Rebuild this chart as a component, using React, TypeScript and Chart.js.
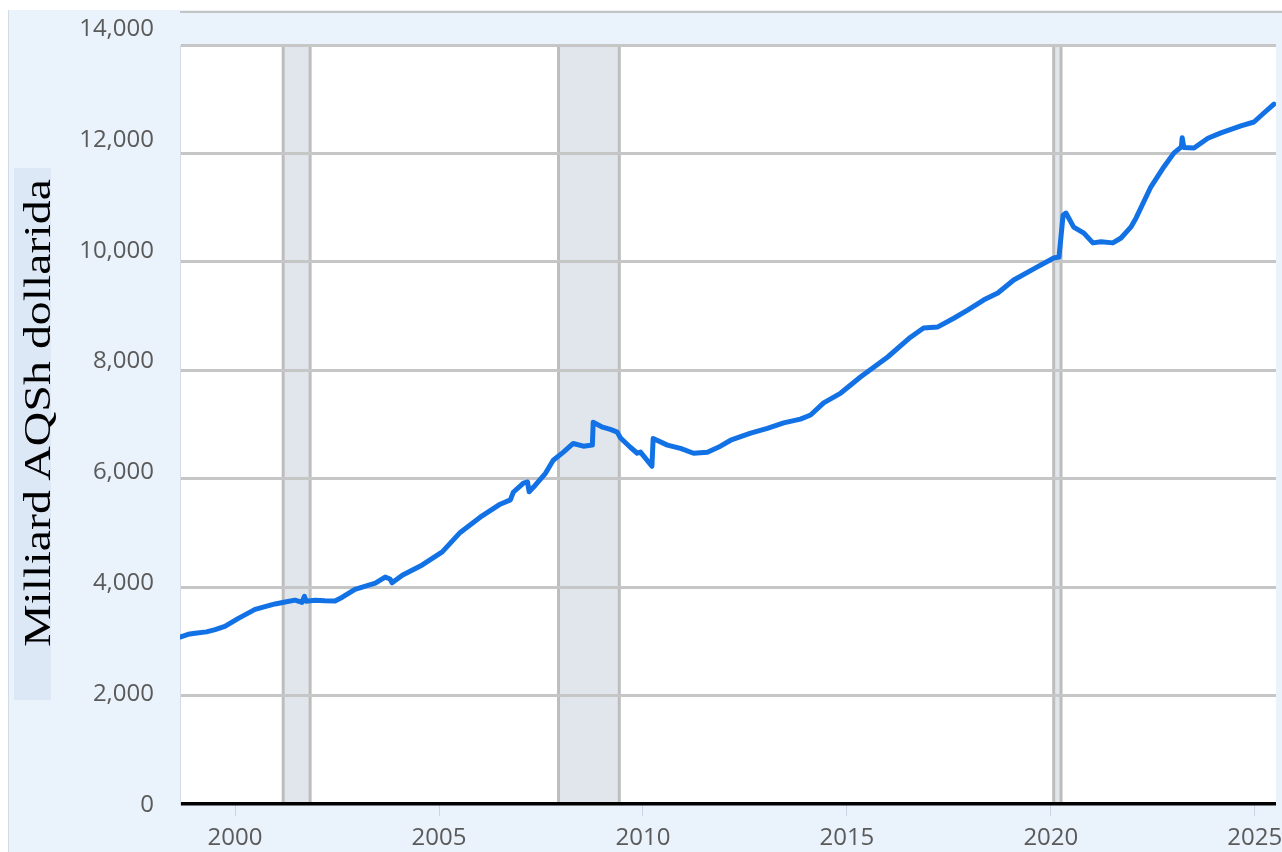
import React, { useEffect, useRef } from "react";
import { Chart, registerables } from "chart.js";

Chart.register(...registerables);

// Decimal years and values (billions of US dollars)
const years = [
  1998.65, 1998.85, 1999.02, 1999.3, 1999.51, 1999.75, 2000.07, 2000.49, 2000.98, 2001.23,
  2001.47, 2001.64, 2001.7, 2001.74, 2001.96, 2002.2, 2002.45, 2002.63, 2002.94, 2003.44,
  2003.68, 2003.8, 2003.85, 2004.1, 2004.59, 2005.08, 2005.52, 2006.01, 2006.5, 2006.75,
  2006.82, 2007.07, 2007.17, 2007.21, 2007.36, 2007.61, 2007.8, 2008.05, 2008.29, 2008.54,
  2008.76, 2008.78, 2009.01, 2009.2, 2009.37, 2009.45, 2009.69, 2009.86, 2009.94, 2010.22,
  2010.25, 2010.6, 2010.92, 2011.24, 2011.58, 2011.9, 2012.15, 2012.64, 2013.05, 2013.45,
  2013.86, 2014.11, 2014.43, 2014.85, 2015.34, 2016.0, 2016.56, 2016.88, 2017.23, 2017.62,
  2017.96, 2018.36, 2018.7, 2019.09, 2019.58, 2020.07, 2020.2, 2020.3, 2020.37, 2020.56,
  2020.81, 2021.03, 2021.23, 2021.52, 2021.72, 2021.96, 2022.09, 2022.45, 2022.77, 2023.02,
  2023.2, 2023.22, 2023.26, 2023.51, 2023.85, 2024.17, 2024.66, 2024.98, 2025.23, 2025.47,
];
const loans = [
  3080, 3130, 3150, 3175, 3215, 3275, 3420, 3590, 3690, 3725,
  3760, 3720, 3830, 3740, 3760, 3750, 3745, 3815, 3960, 4075,
  4185, 4150, 4080, 4220, 4410, 4650, 5010, 5290, 5530, 5610,
  5750, 5920, 5940, 5760, 5880, 6100, 6340, 6490, 6650, 6600,
  6620, 7040, 6950, 6910, 6860, 6750, 6580, 6470, 6490, 6230,
  6740, 6620, 6560, 6470, 6490, 6600, 6710, 6840, 6930, 7030,
  7100, 7175, 7400, 7580, 7880, 8245, 8610, 8780, 8800, 8960,
  9110, 9300, 9425, 9665, 9870, 10070, 10090, 10860, 10900, 10640,
  10530, 10350, 10370, 10350, 10440, 10640, 10810, 11380, 11750, 12010,
  12120, 12290, 12110, 12100, 12280, 12380, 12510, 12580, 12750, 12910,
];

const recessionStart = [2001.18, 2007.93, 2020.07];
const recessionEnd = [2001.84, 2009.42, 2020.25];

const yTickValues = [0, 2000, 4000, 6000, 8000, 10000, 12000, 14000];
const xTickValues = [2000, 2005, 2010, 2015, 2020, 2025];
const yTitle = "Milliard AQSh dollarida";

const backgroundPlugin = {
  id: "backgroundPlugin",
  beforeDraw(chart: any) {
    const { ctx, chartArea: a } = chart;
    const x = chart.scales.x;
    const W = chart.width;
    const H = chart.height;
    ctx.save();
    ctx.fillStyle = "#ffffff";
    ctx.fillRect(0, 0, W, H);
    ctx.fillStyle = "#eaf2fb";
    ctx.fillRect(8, 10, W - 8, H - 10);
    ctx.strokeStyle = "#d3dbe4";
    ctx.lineWidth = 1;
    ctx.beginPath();
    ctx.moveTo(8.5, 10);
    ctx.lineTo(8.5, H);
    ctx.stroke();
    ctx.strokeStyle = "#c4c4c4";
    ctx.lineWidth = 2;
    ctx.beginPath();
    ctx.moveTo(a.left, 12);
    ctx.lineTo(W, 12);
    ctx.stroke();
    ctx.fillStyle = "#ffffff";
    ctx.fillRect(a.left, a.top, a.right - a.left, a.bottom - a.top);
    for (let i = 0; i < recessionStart.length; i++) {
      const x0 = x.getPixelForValue(recessionStart[i]);
      const x1 = x.getPixelForValue(recessionEnd[i]);
      ctx.fillStyle = "#e1e6ec";
      ctx.fillRect(x0, a.top, x1 - x0, a.bottom - a.top);
      ctx.strokeStyle = "#bdbdbd";
      ctx.lineWidth = 3;
      ctx.beginPath();
      ctx.moveTo(x0, a.top);
      ctx.lineTo(x0, a.bottom);
      ctx.moveTo(x1, a.top);
      ctx.lineTo(x1, a.bottom);
      ctx.stroke();
    }
    ctx.restore();
  },
};

export default function App() {
  const canvasRef = useRef<HTMLCanvasElement | null>(null);

  useEffect(() => {
    if (!canvasRef.current) return;
    const tickFont = { family: '"Open Sans", "DejaVu Sans", sans-serif', size: 24 };
    const chart = new Chart(canvasRef.current, {
      type: "line",
      data: {
        datasets: [
          {
            label: yTitle,
            data: years.map((yr, i) => ({ x: yr, y: loans[i] })),
            borderColor: "#1271e4",
            borderWidth: 5,
            pointRadius: 0,
            tension: 0,
            fill: false,
            borderJoinStyle: "round",
            borderCapStyle: "round",
          },
        ],
      },
      options: {
        responsive: false,
        animation: false,
        devicePixelRatio: 1,
        layout: { padding: { left: 0, top: 45, right: 6, bottom: 0 } },
        plugins: { legend: { display: false }, tooltip: { enabled: false } },
        scales: {
          x: {
            type: "linear",
            min: 1998.65,
            max: 2025.52,
            afterBuildTicks: (s: any) => {
              s.ticks = xTickValues.map((v) => ({ value: v }));
            },
            afterFit: (s: any) => {
              s.height = 48;
              s.paddingLeft = 0;
              s.paddingRight = 0;
            },
            grid: {
              display: true,
              drawOnChartArea: false,
              drawTicks: true,
              tickLength: 12,
              tickColor: "#c9d5e2",
              lineWidth: 1,
            },
            border: { display: false },
            ticks: {
              autoSkip: false,
              maxRotation: 0,
              padding: 8,
              color: "#5a5a5a",
              font: tickFont,
              callback: (v: any) => String(v),
            },
          },
          y: {
            type: "linear",
            position: "left",
            weight: 0,
            min: 0,
            max: 14000,
            ticks: { display: false, stepSize: 2000 },
            afterFit: (s: any) => {
              s.width = 0;
              s.paddingTop = 0;
              s.paddingBottom = 0;
            },
            grid: {
              drawTicks: false,
              color: (c: any) => (c.tick && c.tick.value === 0 ? "#000000" : "#c6c6c6"),
              lineWidth: (c: any) => (c.tick && c.tick.value === 0 ? 3.5 : 3),
            },
            border: { display: true, color: "#d3dbe4", width: 1 },
          },
          y2: {
            type: "linear",
            position: "left",
            weight: 1,
            min: 18,
            max: 13711,
            afterBuildTicks: (s: any) => {
              s.ticks = yTickValues.map((v) => ({ value: v }));
            },
            afterFit: (s: any) => {
              s.width = 180;
              s.paddingTop = 0;
              s.paddingBottom = 0;
            },
            grid: { display: false, drawTicks: false },
            border: { display: false },
            ticks: {
              autoSkip: false,
              padding: 26,
              color: "#5a5a5a",
              font: tickFont,
              callback: (v: any) => Number(v).toLocaleString("en-US"),
            },
          },
        },
      },
      plugins: [backgroundPlugin],
    } as any);
    return () => chart.destroy();
  }, []);

  return (
    <div style={{ position: "absolute", left: 0, top: 0, width: 1282, height: 852 }}>
      <canvas ref={canvasRef} width={1282} height={852} style={{ display: "block" }} />
      <div
        style={{
          position: "absolute",
          left: 14,
          top: 168,
          width: 37,
          height: 532,
          background: "#dce8f5",
        }}
      />
      <div
        style={{
          position: "absolute",
          left: 37,
          top: 413,
          transform: "translate(-50%, -50%) rotate(-90deg) scaleX(1.26)",
          whiteSpace: "nowrap",
          fontFamily: '"Liberation Serif", "Times New Roman", serif',
          fontSize: 38,
          lineHeight: 1,
          color: "#000",
        }}
      >
        {yTitle}
      </div>
    </div>
  );
}
